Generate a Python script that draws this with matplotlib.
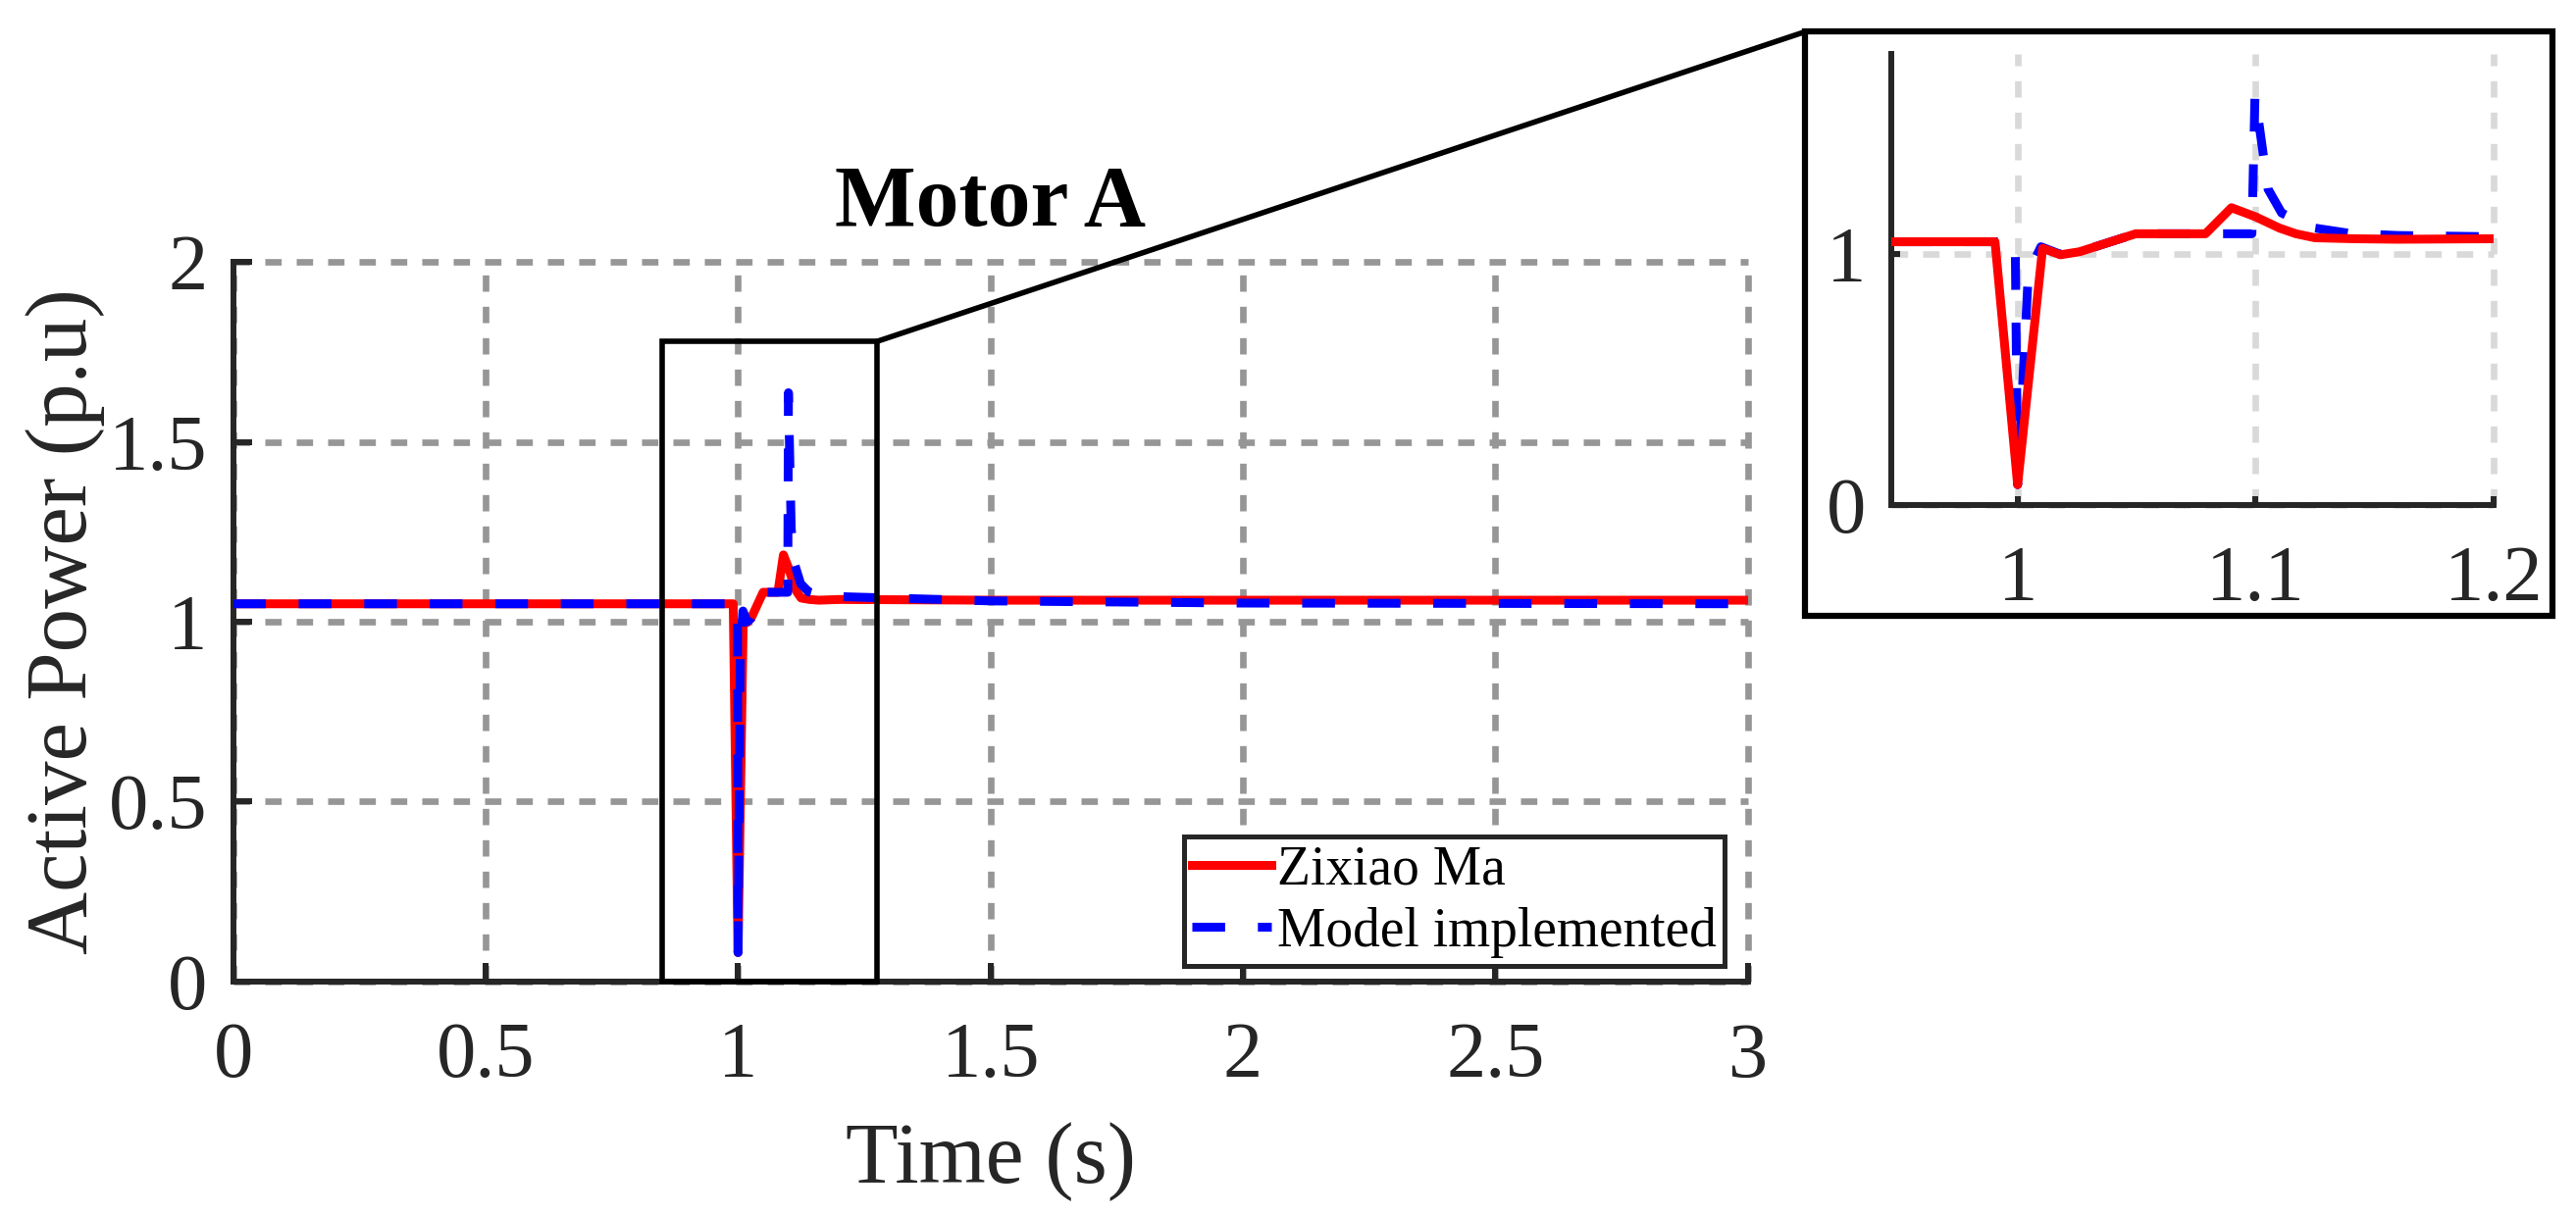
import numpy as np
import matplotlib
matplotlib.use("Agg")
import matplotlib.pyplot as plt
from matplotlib.patches import Rectangle, ConnectionPatch
from matplotlib.ticker import FuncFormatter

# ------------------------------------------------------------
# DATA
# ------------------------------------------------------------
t_zixiao = [0.0, 0.9905, 1.0, 1.0105, 1.018, 1.026, 1.0497, 1.079, 1.0899,
            1.1, 1.11, 1.117, 1.125, 1.1415, 1.16, 1.2, 1.5, 2.0, 3.0]
p_zixiao = [1.05, 1.05, 0.08, 1.024, 0.998, 1.01, 1.082, 1.082, 1.186,
            1.15, 1.105, 1.082, 1.066, 1.062, 1.06, 1.062, 1.06, 1.06, 1.06]

t_model = [0.0, 0.999, 1.0, 1.0045, 1.0098, 1.018, 1.026, 1.0497, 1.0985,
           1.0998, 1.1053, 1.111, 1.124, 1.14, 1.16, 1.2, 1.5, 2.0, 3.0]
p_model = [1.05, 1.05, 0.08, 0.925, 1.03, 1.0, 1.01, 1.082, 1.082,
           1.637, 1.26, 1.165, 1.106, 1.083, 1.075, 1.07, 1.058, 1.052, 1.05]

labels = ["Zixiao Ma", "Model implemented"]
x_ticks = [0, 0.5, 1, 1.5, 2, 2.5, 3]
y_ticks = [0, 0.5, 1, 1.5, 2]
x_ticks_zoom = [1, 1.1, 1.2]
y_ticks_zoom = [0, 1]

# ------------------------------------------------------------
# STYLE
# ------------------------------------------------------------
plt.rcParams['font.family'] = ['Liberation Serif', 'DejaVu Serif']
AX_COL = '#262626'
GRID_DASH = (0, (2.5, 2.3))
LINE_DASH = (0, (3.7, 3.7))
fmt = FuncFormatter(lambda v, p: f"{v:g}")

fig = plt.figure(figsize=(26.26, 12.39), dpi=100)

# ------------------------------------------------------------
# MAIN AXES
# ------------------------------------------------------------
ax = fig.add_axes([0.0905, 0.1923, 0.5880, 0.5919])
ax.plot(t_zixiao, p_zixiao, color='#ff0000', lw=6.5, label=labels[0],
        zorder=3)
ax.plot(t_model, p_model, color='#0000ff', lw=6.5, ls=LINE_DASH,
        label=labels[1], zorder=4)

ax.set_xlim(0, 3)
ax.set_ylim(0, 2)
ax.set_xticks(x_ticks)
ax.set_yticks(y_ticks)
ax.xaxis.set_major_formatter(fmt)
ax.yaxis.set_major_formatter(fmt)

for s in ['top', 'right']:
    ax.spines[s].set_visible(False)
for s in ['left', 'bottom']:
    ax.spines[s].set_color(AX_COL)
    ax.spines[s].set_linewidth(4.3)

ax.tick_params(direction='in', length=13.7, width=4.3, color=AX_COL,
               labelcolor=AX_COL, labelsize=58)
ax.tick_params(axis='x', pad=30)
ax.tick_params(axis='y', pad=19)
ax.grid(True, color='#969696', lw=4.8, ls=GRID_DASH)
ax.set_axisbelow(True)
for gl in ax.get_xgridlines() + ax.get_ygridlines():
    gl.set_clip_on(False)

ax.set_xlabel("Time (s)", fontsize=63, color=AX_COL)
ax.set_ylabel("Active Power (p.u)", fontsize=64, color=AX_COL)
ax.xaxis.set_label_coords(0.5, -0.195)
ax.yaxis.set_label_coords(-0.0846, 0.5)
ax.set_title("Motor A", fontsize=63, fontweight='bold', pad=27, color='k')

leg = ax.legend(loc='lower right', bbox_to_anchor=(0.9846, 0.0214),
                borderaxespad=0, fontsize=40, handlelength=1.46,
                handletextpad=0.1, borderpad=0.15, labelspacing=0.2,
                fancybox=False, framealpha=1)
leg.get_frame().set_edgecolor(AX_COL)
leg.get_frame().set_linewidth(3.6)
for txt in leg.get_texts():
    txt.set_color('k')

# zoom window on main axes
rect = Rectangle((0.85, 0.0), 0.426, 1.78, fill=False, ec='k', lw=4,
                 clip_on=False, zorder=6)
ax.add_patch(rect)

# ------------------------------------------------------------
# INSET AXES
# ------------------------------------------------------------
axi = fig.add_axes([0.7343, 0.5846, 0.2336, 0.3710])
axi.plot(t_model, p_model, color='#0000ff', lw=6.5, ls=LINE_DASH, zorder=3)
axi.plot(t_zixiao, p_zixiao, color='#ff0000', lw=6.5, zorder=4)
axi.set_xlim(0.947, 1.2)
axi.set_ylim(0, 1.8)
axi.set_xticks(x_ticks_zoom)
axi.set_yticks(y_ticks_zoom)
axi.xaxis.set_major_formatter(fmt)
axi.yaxis.set_major_formatter(fmt)
for s in ['top', 'right']:
    axi.spines[s].set_visible(False)
for s in ['left', 'bottom']:
    axi.spines[s].set_color(AX_COL)
    axi.spines[s].set_linewidth(4.3)
axi.tick_params(direction='in', length=6.5, width=4.3, color=AX_COL,
                labelcolor=AX_COL, labelsize=58)
axi.tick_params(axis='x', pad=30)
axi.tick_params(axis='y', pad=19)
axi.grid(True, color='#d9d9d9', lw=4.8, ls=GRID_DASH)
axi.set_axisbelow(True)
for gl in axi.get_xgridlines() + axi.get_ygridlines():
    gl.set_clip_on(False)

# frame around inset and connector line
box = Rectangle((0.7008, 0.4929), 0.2901, 0.4810, transform=fig.transFigure,
                fill=False, ec='k', lw=4.5)
fig.add_artist(box)
con = ConnectionPatch(xyA=(1.276, 1.78), coordsA=ax.transData,
                      xyB=(0.7008, 0.9739), coordsB=fig.transFigure,
                      color='k', lw=4)
fig.add_artist(con)

fig.savefig("out.png", dpi=100, facecolor='white')
